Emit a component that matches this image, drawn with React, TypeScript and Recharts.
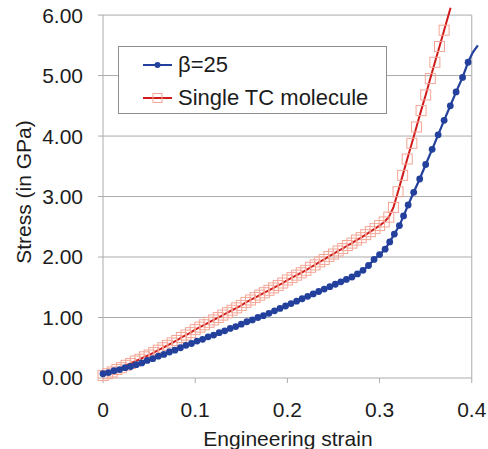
import { FC } from 'react'
import { LineChart, Line, XAxis, YAxis, ReferenceLine } from 'recharts'

// beta = 25 curve
const blueStrain = [
  0.0, 0.006, 0.012, 0.018, 0.024, 0.03, 0.036, 0.042, 0.048, 0.054, 0.06,
  0.066, 0.072, 0.078, 0.084, 0.09, 0.096, 0.102, 0.108, 0.114, 0.12, 0.126,
  0.132, 0.138, 0.144, 0.15, 0.156, 0.162, 0.168, 0.174, 0.18, 0.186, 0.192,
  0.198, 0.204, 0.21, 0.216, 0.222, 0.228, 0.234, 0.24, 0.246, 0.252, 0.258,
  0.264, 0.27, 0.276, 0.282, 0.288, 0.294, 0.3, 0.306, 0.311, 0.316, 0.3215,
  0.326, 0.331, 0.337, 0.3435, 0.35, 0.357, 0.3635, 0.37, 0.3767, 0.383, 0.39,
  0.396, 0.401, 0.4066,
]
const blueStress = [
  0.07, 0.09, 0.12, 0.14, 0.17, 0.19, 0.22, 0.25, 0.29, 0.32, 0.36, 0.39,
  0.43, 0.46, 0.5, 0.54, 0.57, 0.61, 0.64, 0.68, 0.71, 0.75, 0.78, 0.82, 0.85,
  0.89, 0.93, 0.96, 1.0, 1.03, 1.07, 1.11, 1.15, 1.19, 1.23, 1.27, 1.31, 1.35,
  1.39, 1.43, 1.47, 1.51, 1.55, 1.59, 1.63, 1.67, 1.72, 1.78, 1.86, 1.96,
  2.04, 2.13, 2.25, 2.38, 2.52, 2.68, 2.86, 3.07, 3.29, 3.53, 3.78, 4.02,
  4.26, 4.5, 4.73, 4.97, 5.22, 5.38, 5.5,
]

// single TC molecule curve
const redStrain = [
  0.0, 0.005, 0.01, 0.015, 0.02, 0.025, 0.03, 0.035, 0.04, 0.045, 0.05, 0.055,
  0.06, 0.065, 0.07, 0.075, 0.08, 0.085, 0.09, 0.095, 0.1, 0.105, 0.11, 0.115,
  0.12, 0.125, 0.13, 0.135, 0.14, 0.145, 0.15, 0.155, 0.16, 0.165, 0.17,
  0.175, 0.18, 0.185, 0.19, 0.195, 0.2, 0.205, 0.21, 0.215, 0.22, 0.225, 0.23,
  0.235, 0.24, 0.245, 0.25, 0.255, 0.26, 0.265, 0.27, 0.275, 0.28, 0.285,
  0.29, 0.295, 0.3, 0.305, 0.31, 0.315, 0.32, 0.325, 0.33, 0.335, 0.34, 0.345,
  0.35, 0.355, 0.36, 0.365, 0.37, 0.377,
]
const redStress = [
  0.04, 0.07, 0.1, 0.14, 0.17, 0.21, 0.24, 0.28, 0.31, 0.35, 0.38, 0.42, 0.46,
  0.5, 0.54, 0.58, 0.62, 0.67, 0.71, 0.75, 0.8, 0.84, 0.88, 0.92, 0.96, 1.0,
  1.04, 1.08, 1.12, 1.16, 1.2, 1.25, 1.29, 1.33, 1.37, 1.41, 1.45, 1.49, 1.53,
  1.57, 1.62, 1.66, 1.7, 1.74, 1.78, 1.83, 1.87, 1.92, 1.96, 2.01, 2.05, 2.1,
  2.14, 2.19, 2.23, 2.28, 2.32, 2.37, 2.42, 2.47, 2.52, 2.58, 2.66, 2.82,
  3.08, 3.35, 3.62, 3.88, 4.15, 4.42, 4.68, 4.95, 5.22, 5.48, 5.75, 6.12,
]

const xTicks = [0, 0.1, 0.2, 0.3, 0.4]
const yTicks = [0, 1, 2, 3, 4, 5, 6]

const blueRows = blueStrain.map((s, i) => ({ strain: s, stress: blueStress[i] }))
const redRows = redStrain.map((s, i) => ({ strain: s, stress: redStress[i] }))

const BLUE = '#23409c'
const RED = '#d11a1a'
const SQUARE = '#f4a595'
const GRID = '#ababab'
const TEXT = '#1c1c1c'
const FONT = '"Liberation Sans", Arial, sans-serif'

const BlueDot = (props: any) => {
  const { cx, cy, payload, index } = props
  if (payload.strain > 0.4) return <g key={index} />
  return <circle key={index} cx={cx} cy={cy} r={3.4} fill={BLUE} stroke="none" />
}

const RedSquare = (props: any) => {
  const { cx, cy, payload, index } = props
  if (payload.stress > 5.9) return <g key={index} />
  return (
    <rect
      key={index}
      x={cx - 5}
      y={cy - 5}
      width={10}
      height={10}
      fill="none"
      stroke={SQUARE}
      strokeWidth={1}
    />
  )
}

const LegendBox: FC = () => (
  <div
    style={{
      position: 'absolute',
      left: 118,
      top: 46,
      width: 269,
      height: 68,
      boxSizing: 'border-box',
      border: '1px solid #8e8e8e',
      background: '#fff',
      fontFamily: FONT,
      fontSize: 22,
      color: TEXT,
    }}
  >
    <svg width={269} height={68} style={{ position: 'absolute', left: -1, top: -1 }}>
      <line x1={25} x2={54} y1={19} y2={19} stroke={BLUE} strokeWidth={2} />
      <circle cx={39.5} cy={19} r={3} fill={BLUE} />
      <line x1={25} x2={54} y1={52} y2={52} stroke={RED} strokeWidth={2} />
      <rect x={35} y={47.5} width={9} height={9} fill="none" stroke={SQUARE} />
    </svg>
    <div style={{ position: 'absolute', left: 59, top: 5, lineHeight: '26px' }}>
      β=25
    </div>
    <div style={{ position: 'absolute', left: 59, top: 38, lineHeight: '26px' }}>
      Single TC molecule
    </div>
  </div>
)

export default function App() {
  return (
    <div style={{ position: 'absolute', left: 0, top: 0, width: 488, height: 449 }}>
      <LineChart
        width={488}
        height={449}
        margin={{ top: 6, right: 7, bottom: 0, left: 10 }}
        style={{ fontFamily: FONT }}
      >
        <XAxis
          dataKey="strain"
          type="number"
          domain={[0, 0.41]}
          ticks={xTicks}
          tickFormatter={(v: number) => (v === 0 ? '0' : String(v))}
          axisLine={false}
          tickLine={{ stroke: GRID }}
          tickSize={5}
          tickMargin={19}
          height={71}
          tick={{ fill: TEXT, fontSize: 21 }}
          label={{
            value: 'Engineering strain',
            position: 'insideBottom',
            offset: 3,
            dx: -4,
            style: { fill: TEXT, fontSize: 21 },
          }}
        />
        <YAxis
          dataKey="stress"
          type="number"
          domain={[0, 6.15]}
          ticks={yTicks}
          tickFormatter={(v: number) => v.toFixed(2)}
          axisLine={false}
          tickLine={{ stroke: GRID }}
          tickSize={5}
          tickMargin={15}
          width={93}
          tick={{ fill: TEXT, fontSize: 21 }}
          label={{
            value: 'Stress (in GPa)',
            angle: -90,
            position: 'insideLeft',
            offset: 14,
            style: { fill: TEXT, fontSize: 21, textAnchor: 'middle' },
          }}
        />
        {yTicks.map((t) => (
          <ReferenceLine
            key={`g${t}`}
            segment={[
              { x: 0, y: t },
              { x: 0.4, y: t },
            ]}
            stroke={GRID}
            strokeWidth={1}
          />
        ))}
        <ReferenceLine
          segment={[
            { x: 0, y: 0 },
            { x: 0, y: 6 },
          ]}
          stroke={GRID}
        />
        <ReferenceLine
          segment={[
            { x: 0.4, y: 0 },
            { x: 0.4, y: 6 },
          ]}
          stroke={GRID}
        />
        <Line
          data={redRows}
          dataKey="stress"
          type="linear"
          stroke={RED}
          strokeWidth={2}
          dot={RedSquare}
          activeDot={false}
          isAnimationActive={false}
        />
        <Line
          data={blueRows}
          dataKey="stress"
          type="linear"
          stroke={BLUE}
          strokeWidth={2.2}
          dot={BlueDot}
          activeDot={false}
          isAnimationActive={false}
        />
      </LineChart>
      <LegendBox />
    </div>
  )
}
